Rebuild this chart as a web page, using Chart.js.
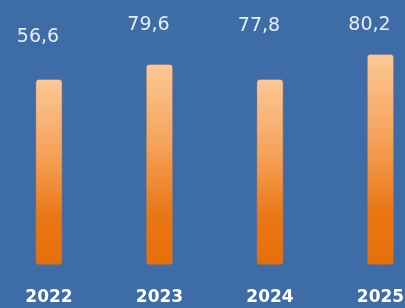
<!DOCTYPE html>
<html>
<head>
<meta charset="utf-8">
<script src="https://cdn.jsdelivr.net/npm/chart.js@4"></script>
<style>
  html, body { margin: 0; padding: 0; background: #3e6ca6; }
  #wrap { width: 405px; height: 308px; position: relative; }
</style>
</head>
<body>
<div id="wrap"><canvas id="chart"></canvas></div>
<script>
// ---------- Data ----------
const years = ["2022", "2023", "2024", "2025"];
const values = [56.6, 79.6, 77.8, 80.2];          // printed values
const barLevels = [70.2, 75.8, 70.2, 79.6];       // bar heights as drawn (0-100 scale)

const fmt = (v) => v.toFixed(1).replace(".", ",");

// gradient per bar: light peach at top, deep orange at bottom
function barFill(ctx) {
  const chart = ctx.chart;
  if (!chart.chartArea || ctx.dataIndex === undefined) return "#f08a2c";
  const y = chart.scales.y;
  const top = y.getPixelForValue(barLevels[ctx.dataIndex]);
  const bottom = y.getPixelForValue(0);
  const g = chart.ctx.createLinearGradient(0, top, 0, bottom);
  g.addColorStop(0, "#fcc896");
  g.addColorStop(0.4, "#f6a25a");
  g.addColorStop(0.75, "#ea7614");
  g.addColorStop(1, "#e66f0a");
  return g;
}

// value labels sit on the hidden line's points, year labels under each bar
const labelPlugin = {
  id: "labels",
  afterDatasetsDraw(chart) {
    const {ctx, chartArea} = chart;
    const x = chart.scales.x;
    const line = chart.getDatasetMeta(1);
    ctx.save();
    ctx.textAlign = "center";
    ctx.textBaseline = "middle";
    ctx.fillStyle = "#e8edf3";
    ctx.font = "19px 'DejaVu Sans'";
    line.data.forEach((pt, i) => {
      ctx.fillText(fmt(values[i]), pt.x - 11, pt.y);
    });
    ctx.fillStyle = "#ffffff";
    ctx.font = "bold 17px 'DejaVu Sans'";
    years.forEach((yr, i) => {
      ctx.fillText(yr, x.getPixelForValue(i), chartArea.bottom + 33);
    });
    ctx.restore();
  },
};

const chart = new Chart(document.getElementById("chart"), {
  type: "bar",
  data: {
    datasets: [
      {
        data: barLevels.map((v, i) => ({x: i, y: v})),
        backgroundColor: barFill,
        borderColor: "rgba(190,120,70,0.35)",
        borderWidth: 1,
        borderRadius: 4,
        borderSkipped: false,
        barThickness: 27,
        yAxisID: "y",
      },
      {
        type: "line",
        data: values.map((v, i) => ({x: i, y: v})),
        showLine: false,
        pointRadius: 0,
        yAxisID: "y2",
      },
    ],
  },
  plugins: [labelPlugin],
  options: {
    responsive: true,
    maintainAspectRatio: false,
    animation: false,
    layout: { padding: { left: 0, right: 0, top: 0, bottom: 43 } },
    scales: {
      x: { type: "linear", min: -0.443, max: 3.222, offset: false, display: false },
      y: { min: 0, max: 100, display: false },
      y2: { min: -400, max: 130, display: false },
    },
    plugins: {
      legend: { display: false },
      tooltip: { enabled: false },
    },
  },
});
</script>
</body>
</html>
